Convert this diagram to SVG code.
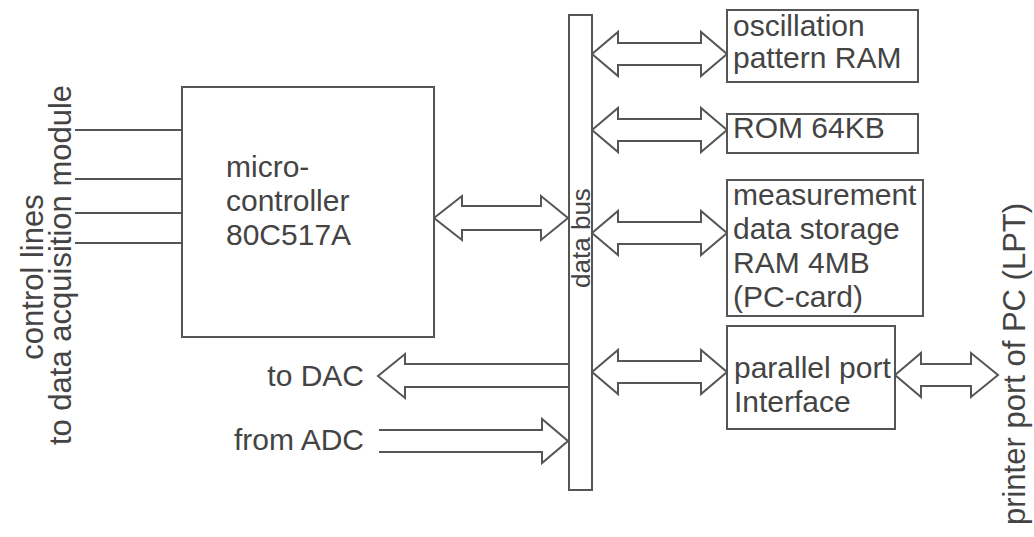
<svg xmlns="http://www.w3.org/2000/svg" width="1034" height="537" viewBox="0 0 1034 537">
<style>
.box{fill:#fff;stroke:#555;stroke-width:2}
.ln{fill:none;stroke:#555;stroke-width:2}
.ar{fill:#fff;stroke:#555;stroke-width:2;stroke-linejoin:miter}
text{font-family:"Liberation Sans",Arial,sans-serif;font-size:30px;fill:#444}
</style>
<rect width="1034" height="537" fill="#fff"/>
<g id="connectors">
<line class="ln" x1="75" y1="130" x2="182" y2="130"/>
<line class="ln" x1="75" y1="179" x2="182" y2="179"/>
<line class="ln" x1="75" y1="213" x2="182" y2="213"/>
<line class="ln" x1="75" y1="243" x2="182" y2="243"/>
<path class="ar" d="M434,218 L462,196 L462,206 L541,206 L541,196 L568,218 L541,240 L541,230 L462,230 L462,240 Z"/>
<path class="ar" d="M592,54 L618,32 L618,43 L701,43 L701,32 L727,54 L701,76 L701,65 L618,65 L618,76 Z"/>
<path class="ar" d="M592,130 L618,108 L618,119 L701,119 L701,108 L727,130 L701,152 L701,141 L618,141 L618,152 Z"/>
<path class="ar" d="M592,233 L618,211 L618,222 L701,222 L701,211 L727,233 L701,255 L701,244 L618,244 L618,255 Z"/>
<path class="ar" d="M592,372 L618,350 L618,361 L701,361 L701,350 L727,372 L701,394 L701,383 L618,383 L618,394 Z"/>
<path class="ar" d="M895,375 L921,353 L921,364 L971,364 L971,353 L998,375 L971,397 L971,386 L921,386 L921,397 Z"/>
<path class="ar" d="M568,364 L405,364 L405,354 L378,376 L405,398 L405,387 L568,387"/>
<path class="ar" d="M379,430 L542,430 L542,419 L568,441 L542,463 L542,452 L379,452"/>
</g>
<g id="microcontroller">
<rect class="box" x="182" y="87" width="252" height="250"/>
<text x="226" y="177">micro-</text>
<text x="226" y="211">controller</text>
<text x="226" y="245">80C517A</text>
</g>
<g id="databus">
<rect class="box" x="569" y="15" width="23" height="475"/>
<text transform="translate(590,238) rotate(-90)" text-anchor="middle" style="font-size:26px">data bus</text>
</g>
<g id="osc">
<rect class="box" x="727" y="10" width="191" height="72"/>
<text x="733" y="36">oscillation</text>
<text x="733" y="68">pattern RAM</text>
</g>
<g id="rom">
<rect class="box" x="727" y="114" width="191" height="39"/>
<text x="733" y="138">ROM 64KB</text>
</g>
<g id="meas">
<rect class="box" x="727" y="180" width="196" height="136"/>
<text x="733" y="205">measurement</text>
<text x="733" y="239">data storage</text>
<text x="733" y="273">RAM 4MB</text>
<text x="733" y="307">(PC-card)</text>
</g>
<g id="parallel">
<rect class="box" x="727" y="326" width="168" height="103"/>
<text x="734" y="378">parallel port</text>
<text x="734" y="412">Interface</text>
</g>
<g id="labels">
<text x="364" y="386" text-anchor="end">to DAC</text>
<text x="364" y="450" text-anchor="end">from ADC</text>
<text transform="translate(43,277) rotate(-90)" text-anchor="middle" style="font-size:31px">control lines</text>
<text transform="translate(71,265) rotate(-90)" text-anchor="middle" style="font-size:31px">to data acquisition module</text>
<text transform="translate(1025,364) rotate(-90)" text-anchor="middle" style="font-size:31px">printer port of PC (LPT)</text>
</g>
</svg>
